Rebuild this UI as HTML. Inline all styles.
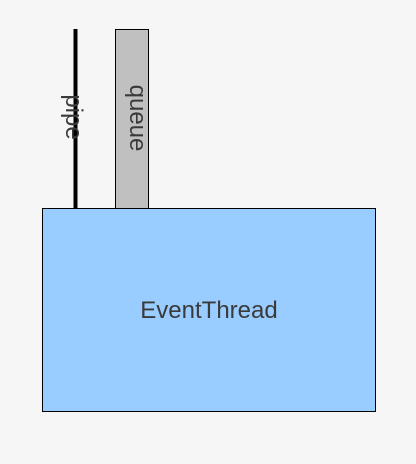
<!DOCTYPE html>
<html><head><meta charset="utf-8"><style>
html,body{margin:0;padding:0;background:#f6f6f6;}
svg{display:block;}
text{font-family:"Liberation Sans","DejaVu Sans",sans-serif;fill:#3a3a3a;}
</style></head><body>
<svg width="416" height="464" viewBox="0 0 416 464">
<rect x="0" y="0" width="416" height="464" fill="#f6f6f6"/>
<line x1="75.5" y1="29" x2="75.5" y2="209" stroke="#000" stroke-width="4"/>
<text x="0" y="0" font-size="24" text-anchor="middle" transform="translate(66,117) rotate(90)">pipe</text>
<rect x="115.5" y="29.5" width="33" height="179" fill="#c0c0c0" stroke="#000" stroke-width="1"/>
<text x="0" y="0" font-size="24" text-anchor="middle" transform="translate(130,118) rotate(90)">queue</text>
<rect x="42.5" y="208.5" width="333" height="203" fill="#99ccff" stroke="#000" stroke-width="1"/>
<text x="209" y="318" font-size="24" text-anchor="middle">EventThread</text>
</svg>
</body></html>
